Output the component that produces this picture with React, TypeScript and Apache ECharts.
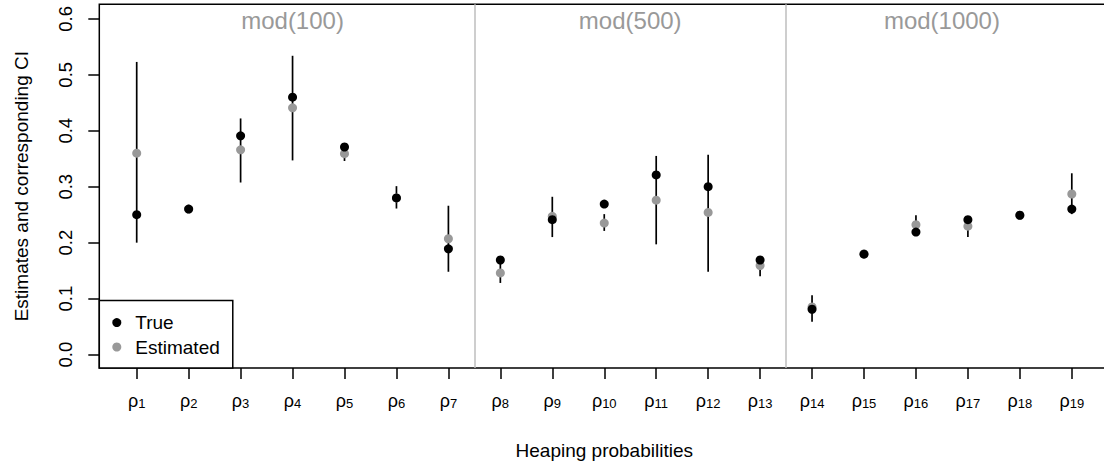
import React, { useEffect, useRef } from "react";
import * as echarts from "echarts";

// ---- data ----
const paramSubscripts = ["1","2","3","4","5","6","7","8","9","10","11","12","13","14","15","16","17","18","19"];
const trueVals = [0.25, 0.26, 0.391, 0.46, 0.371, 0.28, 0.189, 0.169, 0.241, 0.269, 0.321, 0.30, 0.169, 0.081, 0.1795, 0.219, 0.241, 0.249, 0.26];
const estVals = [0.36, 0.26, 0.366, 0.441, 0.359, 0.28, 0.207, 0.146, 0.247, 0.235, 0.276, 0.254, 0.159, 0.085, 0.18, 0.232, 0.2295, 0.249, 0.287];
const ciLow: (number | null)[] = [0.20, null, 0.3075, 0.347, 0.346, 0.261, 0.148, 0.128, 0.210, 0.221, 0.197, 0.148, 0.140, 0.0586, null, 0.215, 0.210, null, 0.251];
const ciHigh: (number | null)[] = [0.523, null, 0.422, 0.534, 0.372, 0.301, 0.266, 0.165, 0.282, 0.251, 0.355, 0.357, 0.172, 0.106, null, 0.249, 0.243, null, 0.324];
const yTicks = [0, 0.1, 0.2, 0.3, 0.4, 0.5, 0.6];
const groupLabels = ["mod(100)", "mod(500)", "mod(1000)"];
const groupLabelX = [4, 10.5, 16.5];
const groupLabelY = [0.597, 0.597, 0.597];
const separators = [7.5, 13.5];

const FONT = "'Liberation Sans', Arial, Helvetica, sans-serif";

export default function App() {
  const ref = useRef<HTMLDivElement>(null);
  useEffect(() => {
    if (!ref.current) return;
    const chart = echarts.init(ref.current, undefined, { renderer: "svg" });
    const xPos = paramSubscripts.map((_, i) => i + 1);
    const ciData: number[][] = [];
    xPos.forEach((x, i) => {
      const lo = ciLow[i];
      const hi = ciHigh[i];
      if (lo != null && hi != null) ciData.push([x, lo, hi]);
    });
    chart.setOption({
      animation: false,
      textStyle: { fontFamily: FONT },
      grid: { left: 99.3, top: 4.3, width: 1009.9, height: 363.7, show: true, borderColor: "#000", borderWidth: 1.5, backgroundColor: "transparent" },
      legend: {
        data: ["True", "Estimated"],
        orient: "vertical",
        left: 99.3,
        bottom: 99,
        padding: [11, 13, 10, 13],
        itemGap: 2.4,
        itemWidth: 9,
        itemHeight: 9,
        icon: "circle",
        backgroundColor: "#fff",
        borderColor: "#000",
        borderWidth: 1.5,
        borderRadius: 0,
        selectedMode: false,
        textStyle: { fontSize: 19, fontFamily: FONT, color: "#000", lineHeight: 22, padding: [0, 0, 0, 9] },
      },
      xAxis: {
        type: "value",
        min: 0.28,
        max: 19.72,
        splitLine: { show: false },
        axisLine: { show: false, onZero: false },
        axisTick: { show: true, inside: false, length: 11, lineStyle: { color: "#000", width: 1.5 }, customValues: xPos },
        axisLabel: {
          customValues: xPos,
          margin: 22,
          formatter: (v: number) => `{r|ρ}{s|${paramSubscripts[Math.round(v) - 1]}}`,
          rich: {
            r: { fontSize: 18, fontFamily: FONT, color: "#000", lineHeight: 20, verticalAlign: "bottom" },
            s: { fontSize: 13, fontFamily: FONT, color: "#000", lineHeight: 12.4, verticalAlign: "bottom" },
          },
        },
        name: "Heaping probabilities",
        nameLocation: "middle",
        nameGap: 72.6,
        nameTextStyle: { fontSize: 19, fontFamily: FONT, color: "#000" },
      },
      yAxis: {
        type: "value",
        min: -0.024,
        max: 0.626,
        splitLine: { show: false },
        axisLine: { show: false, onZero: false },
        axisTick: { show: true, inside: false, length: 11, lineStyle: { color: "#000", width: 1.5 }, customValues: yTicks },
        axisLabel: {
          customValues: yTicks,
          rotate: 90,
          margin: 24,
          fontSize: 18.5,
          color: "#000",
          fontFamily: FONT,
          formatter: (v: number) => v.toFixed(1),
        },
        name: "Estimates and corresponding CI",
        nameLocation: "middle",
        nameGap: 68.7,
        nameTextStyle: { fontSize: 19, fontFamily: FONT, color: "#000" },
      },
      series: [
        {
          name: "groups",
          type: "scatter",
          symbolSize: 0,
          z: 1,
          silent: true,
          data: groupLabels.map((t, i) => ({ value: [groupLabelX[i], groupLabelY[i]], name: t })),
          itemStyle: { opacity: 1 },
          label: {
            show: true,
            position: "inside",
            formatter: (p: any) => p.name,
            fontSize: 24,
            fontFamily: FONT,
            color: "#999999",
          },
          markLine: {
            silent: true,
            symbol: ["none", "none"],
            label: { show: false },
            lineStyle: { color: "#bebebe", width: 1.5, type: "solid", opacity: 1 },
            data: separators.map((x) => ({ xAxis: x })),
          },
        },
        {
          name: "CI",
          type: "custom",
          z: 2,
          data: ciData,
          encode: { x: 0, y: [1, 2] },
          renderItem: (_params: any, api: any) => {
            const x = api.value(0);
            const p1 = api.coord([x, api.value(1)]);
            const p2 = api.coord([x, api.value(2)]);
            return {
              type: "line",
              shape: { x1: p1[0], y1: p1[1], x2: p2[0], y2: p2[1] },
              style: { stroke: "#000", lineWidth: 1.7 },
            };
          },
        },
        {
          name: "Estimated",
          type: "scatter",
          z: 3,
          symbol: "circle",
          symbolSize: 9,
          itemStyle: { color: "#999999", opacity: 1 },
          data: xPos.map((x, i) => [x, estVals[i]]),
        },
        {
          name: "True",
          type: "scatter",
          z: 4,
          symbol: "circle",
          symbolSize: 9,
          itemStyle: { color: "#000000", opacity: 1 },
          data: xPos.map((x, i) => [x, trueVals[i]]),
        },
      ],
    });
    return () => chart.dispose();
  }, []);
  return (
    <div style={{ position: "fixed", left: 0, top: 0, width: 1104, height: 467, overflow: "hidden", background: "#fff" }}>
      <div ref={ref} style={{ width: 1124, height: 467 }} />
    </div>
  );
}
